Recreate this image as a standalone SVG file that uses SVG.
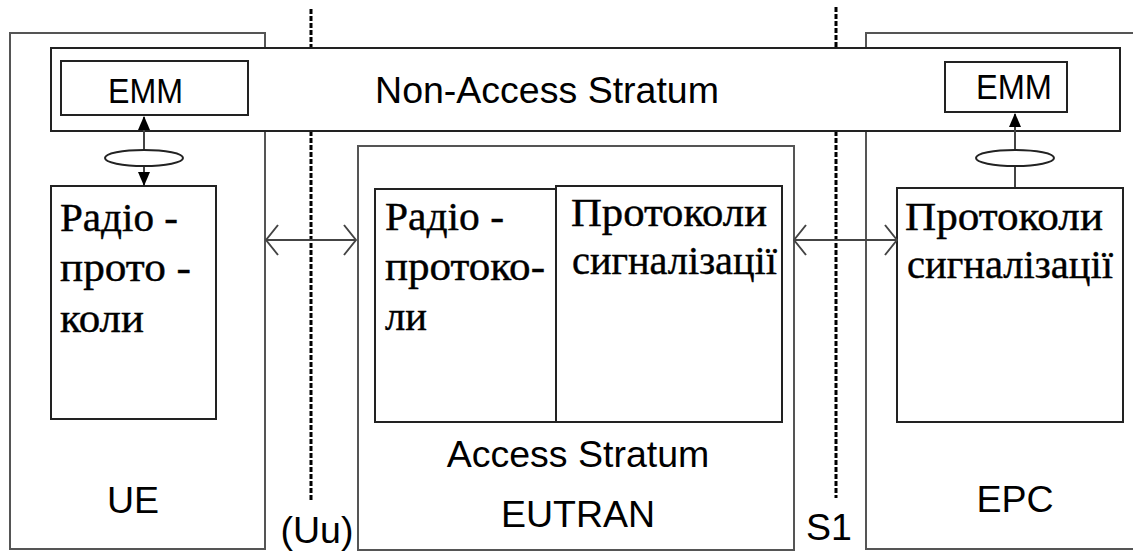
<svg xmlns="http://www.w3.org/2000/svg" width="1133" height="551" viewBox="0 0 1133 551">
<defs>
<style>
.outer{fill:#fff;stroke:#555;stroke-width:2}
.box{fill:#fff;stroke:#222;stroke-width:2}
.sans{font-family:"Liberation Sans",Arial,sans-serif;font-size:37.5px;fill:#000}
.emm{font-size:35px}
.serif{font-family:"Liberation Serif","Times New Roman",serif;font-size:39px;fill:#000;stroke:#000;stroke-width:0.4}
.dot{stroke:#000;stroke-width:3;stroke-dasharray:5 2;fill:none}
.link{stroke:#444;stroke-width:2;fill:none}
.ell{fill:#fff;stroke:#222;stroke-width:2}
</style>
<marker id="ah" viewBox="0 0 14 12" refX="13" refY="6" markerWidth="14" markerHeight="12" markerUnits="userSpaceOnUse" orient="auto-start-reverse">
<path d="M0,0 L14,6 L0,12 Z" fill="#000"/>
</marker>
<marker id="chev" viewBox="0 0 14 32" refX="13" refY="16" markerWidth="14" markerHeight="32" markerUnits="userSpaceOnUse" orient="auto-start-reverse">
<path d="M1,1 L13,16 L1,31" fill="none" stroke="#444" stroke-width="2"/>
</marker>
</defs>
<rect width="1133" height="551" fill="#fff"/>

<g id="ue">
<rect class="outer" x="10" y="33" width="255" height="516"/>
<text class="sans" x="133" y="513" text-anchor="middle">UE</text>
</g>

<g id="epc">
<rect class="outer" x="866" y="33" width="280" height="516"/>
<text class="sans" x="1015" y="512" text-anchor="middle">EPC</text>
</g>

<g id="eutran">
<rect class="outer" x="358" y="146" width="436" height="404"/>
<text class="sans" x="578" y="467" text-anchor="middle">Access Stratum</text>
<text class="sans" x="578" y="527" text-anchor="middle">EUTRAN</text>
</g>

<g id="boundaries">
<line class="dot" x1="311" y1="9" x2="311" y2="48"/>
<line class="dot" x1="311" y1="131" x2="311" y2="502"/>
<text class="sans" x="317" y="543" text-anchor="middle">(Uu)</text>
<line class="dot" x1="836" y1="7" x2="836" y2="48"/>
<line class="dot" x1="836" y1="131" x2="836" y2="498"/>
<text class="sans" x="829" y="540" text-anchor="middle">S1</text>
</g>

<g id="nas">
<rect class="box" x="51" y="48" width="1069" height="83"/>
<text class="sans" x="547" y="103" text-anchor="middle">Non-Access Stratum</text>
</g>

<g id="emm-ue">
<rect class="box" x="61" y="61" width="187" height="54"/>
<text class="sans emm" x="108" y="103" textLength="75" lengthAdjust="spacingAndGlyphs">EMM</text>
</g>

<g id="emm-epc">
<rect class="box" x="945" y="62" width="122" height="50"/>
<text class="sans emm" x="976" y="99" textLength="76" lengthAdjust="spacingAndGlyphs">EMM</text>
</g>

<g id="radio-ue">
<rect class="box" x="51" y="186" width="165" height="233"/>
<text class="serif" x="60" y="231" textLength="118" lengthAdjust="spacingAndGlyphs">Радіо -</text>
<text class="serif" x="60" y="281" textLength="131" lengthAdjust="spacingAndGlyphs">прото -</text>
<text class="serif" x="60" y="332" textLength="84" lengthAdjust="spacingAndGlyphs">коли</text>
</g>

<g id="radio-eutran">
<rect class="box" x="375" y="189" width="181" height="233"/>
<text class="serif" x="385" y="230" textLength="119" lengthAdjust="spacingAndGlyphs">Радіо -</text>
<text class="serif" x="385" y="280" textLength="160" lengthAdjust="spacingAndGlyphs">протоко-</text>
<text class="serif" x="385" y="330" textLength="42" lengthAdjust="spacingAndGlyphs">ли</text>
</g>

<g id="signal-eutran">
<rect class="box" x="556" y="186" width="226" height="236"/>
<text class="serif" x="571" y="226" textLength="196" lengthAdjust="spacingAndGlyphs">Протоколи</text>
<text class="serif" x="572" y="274" textLength="205" lengthAdjust="spacingAndGlyphs">сигналізації</text>
</g>

<g id="signal-epc">
<rect class="box" x="897" y="188" width="226" height="234"/>
<text class="serif" x="905" y="230" textLength="198" lengthAdjust="spacingAndGlyphs">Протоколи</text>
<text class="serif" x="907" y="278" textLength="206" lengthAdjust="spacingAndGlyphs">сигналізації</text>
</g>

<g id="connectors">
<line class="link" x1="144" y1="117" x2="144" y2="185" stroke="#000" marker-start="url(#ah)" marker-end="url(#ah)"/>
<ellipse class="ell" cx="144" cy="158" rx="39" ry="8"/>
<line class="link" x1="1015" y1="187" x2="1015" y2="114" marker-end="url(#ah)"/>
<ellipse class="ell" cx="1015" cy="158" rx="39" ry="8"/>
<line class="link" x1="266" y1="240" x2="356" y2="240" marker-start="url(#chev)" marker-end="url(#chev)"/>
<line class="link" x1="794" y1="240" x2="897" y2="240" marker-start="url(#chev)" marker-end="url(#chev)"/>
</g>
</svg>
